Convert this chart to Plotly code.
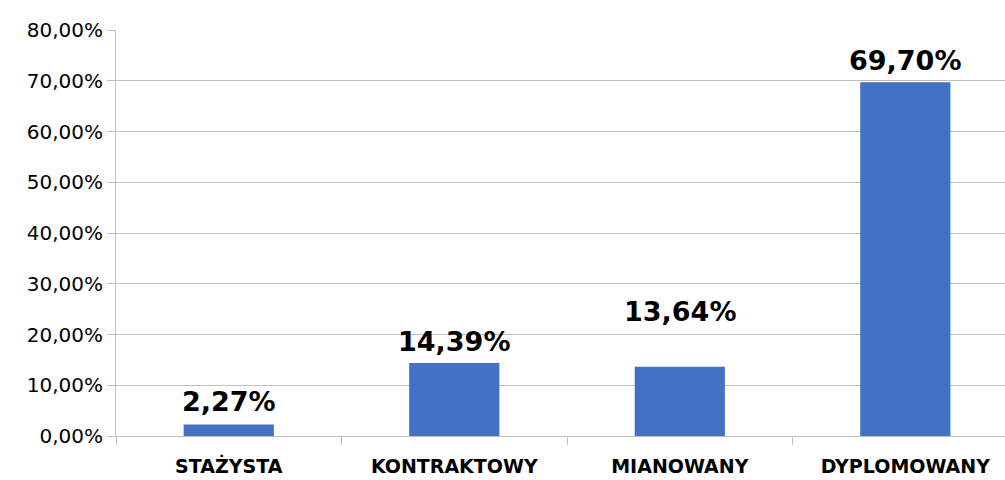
import plotly.graph_objects as go

categories = ["STAŻYSTA", "KONTRAKTOWY", "MIANOWANY", "DYPLOMOWANY"]
values = [2.27, 14.39, 13.64, 69.70]
labels = ["2,27%", "14,39%", "13,64%", "69,70%"]
tick_vals = [0, 10, 20, 30, 40, 50, 60, 70, 80]
tick_text = ["0,00%", "10,00%", "20,00%", "30,00%", "40,00%", "50,00%", "60,00%", "70,00%", "80,00%"]
label_shift = [23, 21, 55, 22]

FONT = "'DejaVu Sans', sans-serif"

fig = go.Figure()
fig.add_trace(go.Bar(
    x=categories, y=values, width=0.4,
    marker=dict(color="#4271c5", line=dict(width=0)),
    hoverinfo="skip",
))

for c, v, t, s in zip(categories, values, labels, label_shift):
    fig.add_annotation(x=c, y=v, text=t, showarrow=False, yanchor="middle",
                       yshift=s, font=dict(family=FONT, size=27, color="#000000", weight="bold"))

fig.update_layout(
    width=1005, height=480,
    margin=dict(l=116, r=0, t=30, b=44, autoexpand=False),
    paper_bgcolor="white", plot_bgcolor="white",
    showlegend=False,
    font=dict(family=FONT),
    xaxis=dict(
        type="category", range=[-0.5, 3.442],
        showgrid=False, showline=True, linecolor="#bfbfbf", linewidth=1,
        ticks="outside", tickson="boundaries", ticklen=8, tickcolor="#bfbfbf",
        tickfont=dict(family=FONT, size=19, color="#000000", weight="bold"),
        ticklabelstandoff=13,
    ),
    yaxis=dict(
        range=[0, 80], tickvals=tick_vals, ticktext=tick_text,
        showgrid=True, gridcolor="#bfbfbf", gridwidth=1,
        showline=True, linecolor="#bfbfbf", linewidth=1,
        ticks="outside", ticklen=8, tickcolor="#bfbfbf",
        tickfont=dict(family=FONT, size=20, color="#000000"),
        zeroline=False,
    ),
)

fig.write_html("out.html", config={"displayModeBar": False},
               post_script="document.body.style.margin='0';")
